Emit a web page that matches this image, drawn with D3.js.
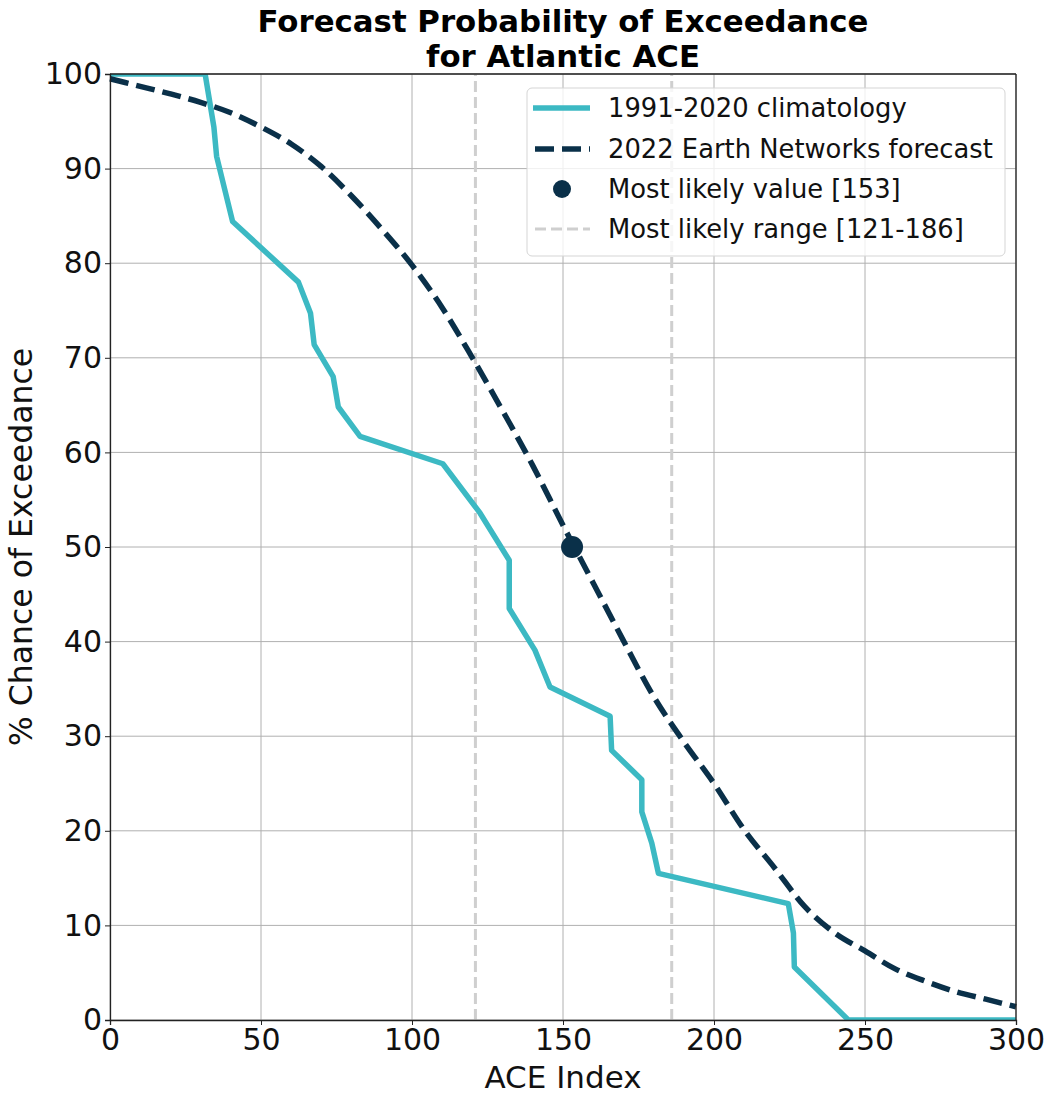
<script src="https://d3js.org/d3.v7.min.js"></script>
<style>
  body { margin: 0; background: #fff; }
  text { font-family: "DejaVu Sans", sans-serif; }
</style>
<div id="vis"></div>
<script>
  // climatology exceedance curve (ACE, % chance)
  const climAce = [0, 31.5, 34.4, 35.3, 40.6, 62.4, 66.4, 67.6, 73.9, 75.6, 82.8, 110.2, 122.5, 132.2, 132.2, 140.7, 145.7, 165.6, 166.1, 176.1, 176.1, 179.4, 181.6, 224.6, 226.3, 226.6, 244.5, 300]
  const climPct = [100, 100, 94.4, 91.3, 84.4, 78.0, 74.7, 71.4, 68.0, 64.8, 61.7, 58.8, 53.6, 48.6, 43.5, 39.1, 35.2, 32.1, 28.5, 25.4, 22.0, 18.7, 15.5, 12.3, 9.2, 5.6, 0, 0]

  // 2022 forecast exceedance curve
  const fcAce = [0, 10, 20, 30, 40, 50, 60, 70, 80, 90, 100, 110, 120, 130, 140, 150, 160, 170, 180, 190, 200, 210, 220, 230, 240, 250, 260, 270, 280, 290, 300]
  const fcPct = [99.5, 98.7, 97.9, 97.0, 95.9, 94.4, 92.6, 90.2, 87.1, 83.6, 79.8, 75.3, 70.0, 64.4, 58.6, 52.3, 46.2, 40.1, 34.2, 29.4, 25.0, 20.1, 16.1, 12.0, 9.2, 7.3, 5.4, 4.1, 3.0, 2.2, 1.4]

  const likelyValue = 153
  const likelyRange = [121, 186]

  const xTicks = [0, 50, 100, 150, 200, 250, 300]
  const yTicks = [0, 10, 20, 30, 40, 50, 60, 70, 80, 90, 100]

  const legendLabels = ['1991-2020 climatology', '2022 Earth Networks forecast', 'Most likely value [153]', 'Most likely range [121-186]']

  const teal = '#3cb9c3'
  const navy = '#0a3049'
  const rangeGray = '#cfcfcf'

  const W = 1044, H = 1095
  const m = {left: 110, right: 28, top: 74, bottom: 75}

  var svg = d3.select('#vis').append('svg')
    .attr('width', W)
    .attr('height', H)

  var x = d3.scaleLinear().domain([0, 300]).range([m.left, W - m.right])
  var y = d3.scaleLinear().domain([0, 100]).range([H - m.bottom, m.top])

  // grid
  svg.append('g').selectAll('line').data(xTicks).enter().append('line')
    .attr('x1', d => x(d)).attr('x2', d => x(d))
    .attr('y1', y(0)).attr('y2', y(100))
    .attr('stroke', '#b0b0b0').attr('stroke-width', 1)
  svg.append('g').selectAll('line').data(yTicks).enter().append('line')
    .attr('y1', d => y(d)).attr('y2', d => y(d))
    .attr('x1', x(0)).attr('x2', x(300))
    .attr('stroke', '#b0b0b0').attr('stroke-width', 1)

  // range lines
  svg.append('g').selectAll('line').data(likelyRange).enter().append('line')
    .attr('x1', d => x(d)).attr('x2', d => x(d))
    .attr('y1', y(0)).attr('y2', y(100))
    .attr('stroke', rangeGray).attr('stroke-width', 3)
    .attr('stroke-dasharray', '11,5')

  var line = d3.line().x(d => x(d[0])).y(d => y(d[1]))

  svg.append('clipPath').attr('id', 'clip').append('rect')
    .attr('x', x(0)).attr('y', y(100)).attr('width', x(300) - x(0)).attr('height', y(0) - y(100))

  svg.append('path')
    .datum(climAce.map((a, i) => [a, climPct[i]]))
    .attr('d', line)
    .attr('fill', 'none')
    .attr('stroke', teal)
    .attr('stroke-width', 5.5)
    .attr('stroke-linejoin', 'round')
    .attr('clip-path', 'url(#clip)')

  svg.append('path')
    .datum(fcAce.map((a, i) => [a, fcPct[i]]))
    .attr('d', d3.line().curve(d3.curveMonotoneX).x(d => x(d[0])).y(d => y(d[1])))
    .attr('fill', 'none')
    .attr('stroke', navy)
    .attr('stroke-width', 5.5)
    .attr('stroke-dasharray', '19,8')

  svg.append('circle')
    .attr('cx', x(likelyValue)).attr('cy', y(50)).attr('r', 11)
    .attr('fill', navy)

  // axes
  var xAxis = svg.append('g')
    .attr('transform', 'translate(0,' + y(0) + ')')
    .call(d3.axisBottom(x).tickValues(xTicks).tickSize(5).tickPadding(3))
  var yAxis = svg.append('g')
    .attr('transform', 'translate(' + x(0) + ',0)')
    .call(d3.axisLeft(y).tickValues(yTicks).tickSize(5).tickPadding(3))
  svg.selectAll('.domain').attr('stroke', '#222').attr('stroke-width', 1.3)
  svg.selectAll('.tick line').attr('stroke', '#222')
  svg.selectAll('.tick text').attr('font-size', 30).attr('font-family', 'DejaVu Sans').attr('fill', '#111')
  xAxis.selectAll('.tick text').attr('dy', '0.72em')

  // frame top/right
  svg.append('line').attr('x1', x(0)).attr('x2', x(300)).attr('y1', y(100)).attr('y2', y(100)).attr('stroke', '#222').attr('stroke-width', 1.3)
  svg.append('line').attr('x1', x(300)).attr('x2', x(300)).attr('y1', y(100)).attr('y2', y(0)).attr('stroke', '#222').attr('stroke-width', 1.3)

  // titles
  var cx = (x(0) + x(300)) / 2
  svg.append('text').attr('x', cx).attr('y', 32).attr('text-anchor', 'middle')
    .attr('font-size', 30.8).attr('font-weight', 'bold').text('Forecast Probability of Exceedance')
  svg.append('text').attr('x', cx).attr('y', 67).attr('text-anchor', 'middle')
    .attr('font-size', 30.8).attr('font-weight', 'bold').text('for Atlantic ACE')
  svg.append('text').attr('x', cx).attr('y', 1088).attr('text-anchor', 'middle')
    .attr('font-size', 31).attr('fill', '#111').text('ACE Index')
  svg.append('text').attr('transform', 'translate(32,' + ((y(0) + y(100)) / 2) + ') rotate(-90)')
    .attr('text-anchor', 'middle').attr('font-size', 31.5).attr('fill', '#111').text('% Chance of Exceedance')

  // legend
  var lg = svg.append('g').attr('transform', 'translate(527,88)')
  lg.append('rect').attr('width', 478).attr('height', 168).attr('rx', 5)
    .attr('fill', 'white').attr('fill-opacity', 0.8).attr('stroke', '#d5d5d5')
  var rowY = [20, 61, 101, 141]
  legendLabels.forEach(function(lab, i) {
    var g = lg.append('g').attr('transform', 'translate(0,' + rowY[i] + ')')
    if (i == 0) g.append('line').attr('x1', 6).attr('x2', 63).attr('stroke', teal).attr('stroke-width', 5.5)
    if (i == 1) g.append('line').attr('x1', 8).attr('x2', 63).attr('stroke', navy).attr('stroke-width', 5.5).attr('stroke-dasharray', '19,8')
    if (i == 2) g.append('circle').attr('cx', 35).attr('r', 9).attr('fill', navy)
    if (i == 3) g.append('line').attr('x1', 8).attr('x2', 63).attr('stroke', rangeGray).attr('stroke-width', 3).attr('stroke-dasharray', '11,5')
    g.append('text').attr('x', 81).attr('y', 0).attr('dy', '0.35em')
      .attr('font-size', 25.8).attr('fill', '#111').text(lab)
  })
</script>
